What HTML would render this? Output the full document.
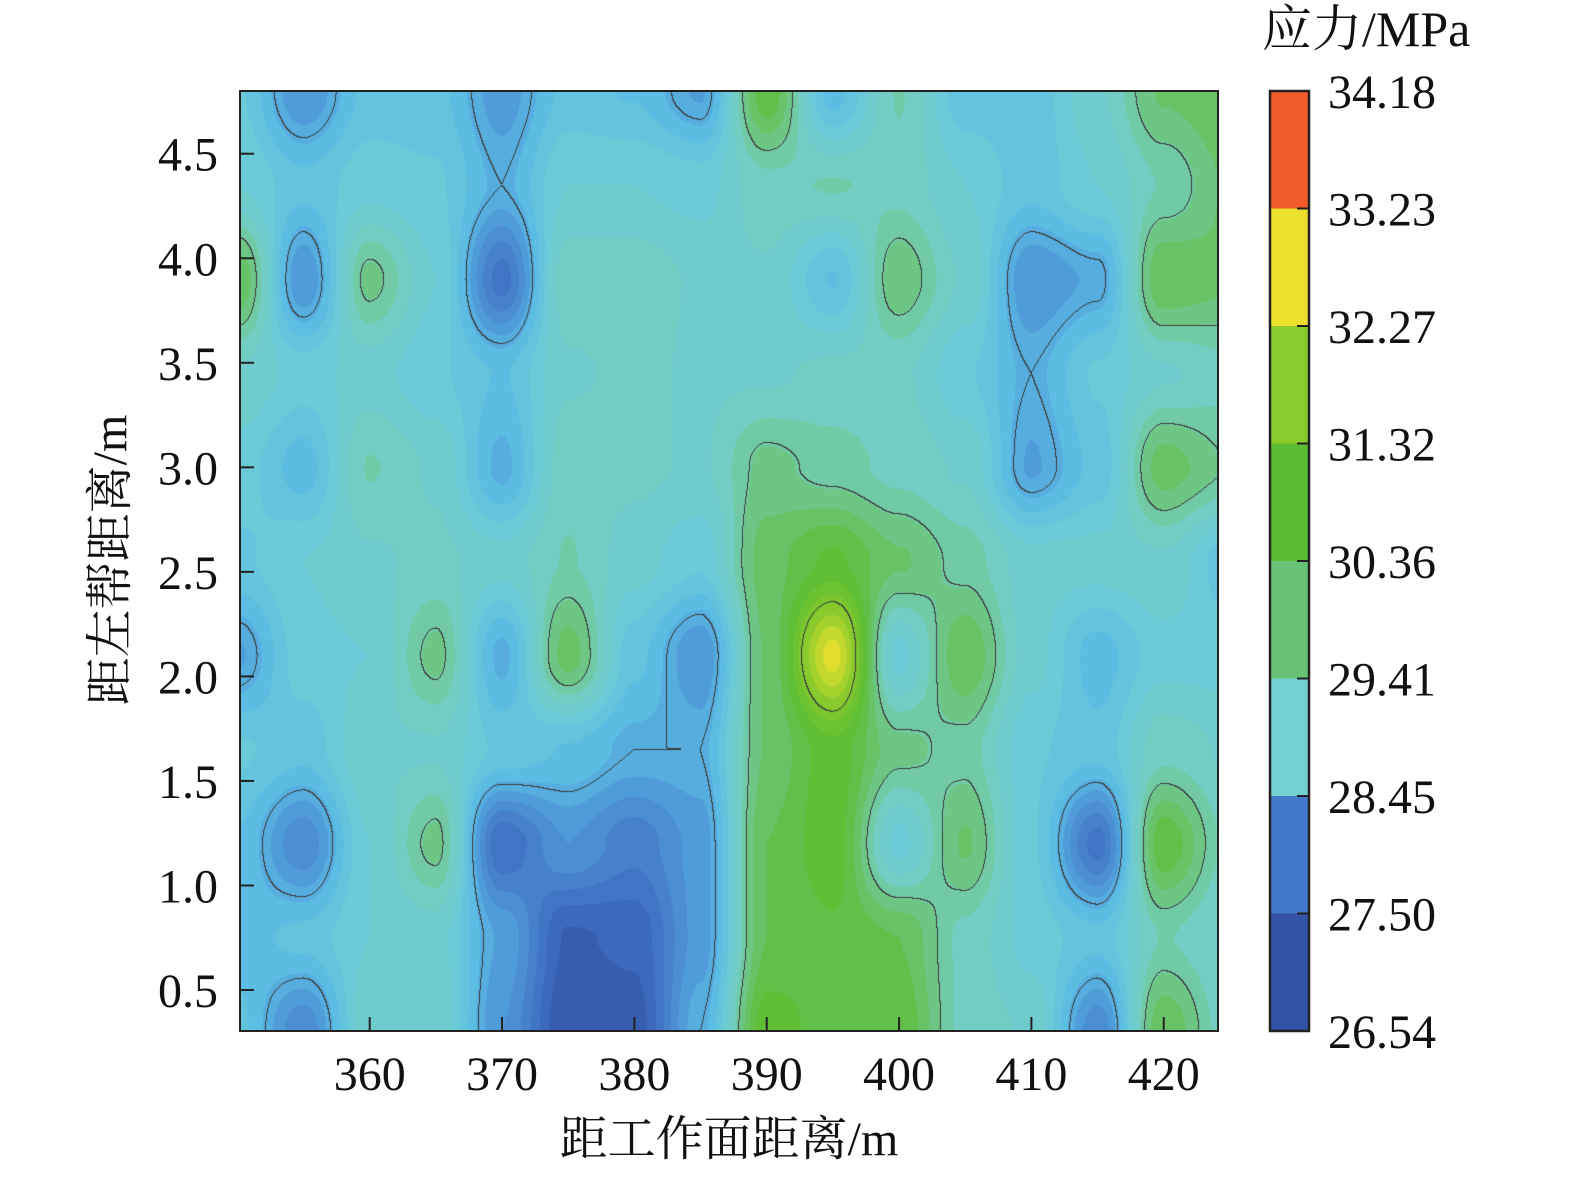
<!DOCTYPE html>
<html><head><meta charset="utf-8"><style>
body{margin:0;background:#fff;width:1575px;height:1178px;overflow:hidden;position:relative}
canvas{position:absolute;left:240px;top:91px}
svg{position:absolute;left:0;top:0}
text{font-family:"Liberation Serif","Noto Serif CJK SC",serif;fill:#111}
</style></head><body>
<canvas id="cv" width="978" height="940"></canvas>
<svg id="sv" width="1575" height="1178"></svg>
<script>
const xCoords=[350,355,360,365,370,375,380,385,390,395,400,405,410,415,420,425];
const yCoords=[4.8,4.35,3.9,3.45,3.0,2.55,2.1,1.65,1.2,0.75,0.3];
const stressGrid=[
[29.2,28.2,29.0,29.0,28.3,29.0,28.9,28.4,30.8,28.8,29.9,29.0,29.0,29.6,30.4,30.6],
[29.4,29.0,29.3,29.2,28.6,29.4,29.4,29.3,29.8,29.9,29.8,29.4,29.0,29.4,29.9,30.4],
[30.6,28.2,30.2,29.4,27.6,29.8,29.8,29.6,29.6,28.9,30.3,29.6,28.2,28.5,30.6,30.4],
[29.6,29.3,29.5,29.2,28.9,29.6,29.7,29.6,29.6,29.7,29.7,29.2,28.6,29.2,29.6,29.8],
[29.3,28.8,29.9,29.6,28.6,29.8,29.7,29.6,30.2,30.0,29.8,29.6,28.4,29.0,30.5,30.1],
[29.1,29.4,29.6,29.7,29.5,29.9,29.5,29.2,30.5,30.9,30.4,30.0,29.5,29.5,29.6,29.0],
[28.4,29.3,29.4,30.2,28.6,30.5,29.0,28.2,30.4,32.4,29.3,30.6,29.5,28.8,29.3,29.3],
[29.2,29.0,29.6,29.6,29.1,28.9,28.6,28.6,30.4,31.0,30.2,30.0,29.2,29.0,29.8,29.6],
[28.9,28.0,29.4,30.2,27.5,28.2,27.8,28.3,30.6,31.0,29.3,30.4,29.2,27.6,30.8,29.8],
[28.8,29.0,29.4,29.5,28.4,27.2,27.3,28.3,30.6,30.8,30.6,29.8,29.3,29.0,29.9,29.6],
[29.0,28.0,29.6,29.6,28.2,27.0,27.1,28.6,31.0,30.7,30.8,29.8,29.6,28.0,30.6,29.7]];
const levels=[26.54,27.50,28.45,29.41,30.36,31.32,32.27,33.23,34.18];
const bandColors=["#3253a8","#4479c9","#74cfcf","#68c474","#5cbd34","#8acb2c","#ece12c","#f25a28"];
const paletteStops=[26.9,27.7,28.3,28.8,29.3,29.8,30.3,30.9,31.7,32.5];
const paletteColors=["#3253a8","#4479c9","#4f9bd8","#5cbde3","#6ccbd6","#74cdc0","#6cc57c","#5cbd34","#8acb2c","#ece12c"];
const xTicks=[360,370,380,390,400,410,420];
const yTicks=[0.5,1.0,1.5,2.0,2.5,3.0,3.5,4.0,4.5];
const X0=240,X1=1218,Y0=91,Y1=1031,xmin=350.2,xmax=424.1,ymin=0.304,ymax=4.8;
const sx=v=>X0+(v-xmin)/(xmax-xmin)*(X1-X0);
const sy=v=>Y1-(v-ymin)/(ymax-ymin)*(Y1-Y0);
function hex(c){return [1,3,5].map(i=>parseInt(c.substr(i,2),16));}
const prgb=paletteColors.map(hex);
function colorOf(v){
 v=Math.round(v/0.24)*0.24;
 if(v<=paletteStops[0])return prgb[0];
 for(let k=0;k<paletteStops.length-1;k++){if(v<=paletteStops[k+1]){const t=(v-paletteStops[k])/(paletteStops[k+1]-paletteStops[k]);
  return prgb[k].map((c,i)=>c*(1-t)+prgb[k+1][i]*t);}}
 return prgb[prgb.length-1];
}
function sm(t){return t*t*(3-2*t);}
function val(x,y){
 let fi=(x-xCoords[0])/(xCoords[1]-xCoords[0]);
 let fj=(yCoords[0]-y)/(yCoords[0]-yCoords[1]);
 fi=Math.max(0,Math.min(xCoords.length-1.001,fi));fj=Math.max(0,Math.min(yCoords.length-1.001,fj));
 const i=Math.floor(fi),j=Math.floor(fj),tx=sm(fi-i),ty=sm(fj-j);
 const a=stressGrid[j][i],b=stressGrid[j][i+1],c=stressGrid[j+1][i],d=stressGrid[j+1][i+1];
 return (a*(1-tx)+b*tx)*(1-ty)+(c*(1-tx)+d*tx)*ty;
}
const cv=document.getElementById('cv'),ctx=cv.getContext('2d');
const W=cv.width,H=cv.height,img=ctx.createImageData(W,H);
const V=new Float32Array(W*H);
for(let py=0;py<H;py++)for(let px=0;px<W;px++){
 const x=xmin+(px+0.5)/W*(xmax-xmin),y=ymax-(py+0.5)/H*(ymax-ymin);
 V[py*W+px]=val(x,y);}
for(let p=0;p<W*H;p++){const c=colorOf(V[p]);img.data[p*4]=c[0];img.data[p*4+1]=c[1];img.data[p*4+2]=c[2];img.data[p*4+3]=255;}
const th=[28.6,30.1,31.5];
for(let py=0;py<H-1;py++)for(let px=0;px<W-1;px++){
 const p=py*W+px;
 for(const t of th){const a=V[p]>=t,b=V[p+1]>=t,c=V[p+W]>=t;
  if(a!==b||a!==c){img.data[p*4]=60;img.data[p*4+1]=60;img.data[p*4+2]=60;}}
}
ctx.putImageData(img,0,0);
const NS='http://www.w3.org/2000/svg',sv=document.getElementById('sv');
function el(t,a,txt){const e=document.createElementNS(NS,t);for(const k in a)e.setAttribute(k,a[k]);if(txt!==undefined)e.textContent=txt;sv.appendChild(e);return e;}
const frame=el('rect',{x:X0,y:Y0,width:X1-X0,height:Y1-Y0,fill:'none',stroke:'#222','stroke-width':2});

xTicks.forEach(v=>{const x=sx(v);
 const l=el('line',{x1:x,x2:x,y1:Y1,y2:Y1-14,stroke:'#222','stroke-width':2});
 
 const t=el('text',{x:x,y:1090,'font-size':48,'text-anchor':'middle'},v);
 });
yTicks.forEach(v=>{const y=sy(v);
 const l=el('line',{x1:X0,x2:X0+14,y1:y,y2:y,stroke:'#222','stroke-width':2});
 
 const t=el('text',{x:218,y:y+17,'font-size':48,'text-anchor':'end'},v.toFixed(1));
 });
const xt=el('text',{x:729,y:1155,'font-size':48,'text-anchor':'middle'},'距工作面距离/m');

const yt=el('text',{x:0,y:0,'font-size':48,'text-anchor':'middle',transform:'translate(126,560) rotate(-90)'},'距左帮距离/m');

const CB0=1270,CB1=1309,bh=(Y1-Y0)/bandColors.length;
bandColors.forEach((c,k)=>{const r=el('rect',{x:CB0,y:Y1-(k+1)*bh,width:CB1-CB0,height:bh,fill:c});
 });
const cbf=el('rect',{x:CB0,y:Y0,width:CB1-CB0,height:Y1-Y0,fill:'none',stroke:'#222','stroke-width':2.5});

levels.forEach((v,k)=>{const y=Y1-k*bh;
 const l=el('line',{x1:CB1-12,x2:CB1,y1:y,y2:y,stroke:'#222','stroke-width':2});
 
 const t=el('text',{x:1328,y:y+17,'font-size':48},v.toFixed(2));
 });
const ct=el('text',{x:1262,y:46,'font-size':50},'应力/MPa');

</script></body></html>
